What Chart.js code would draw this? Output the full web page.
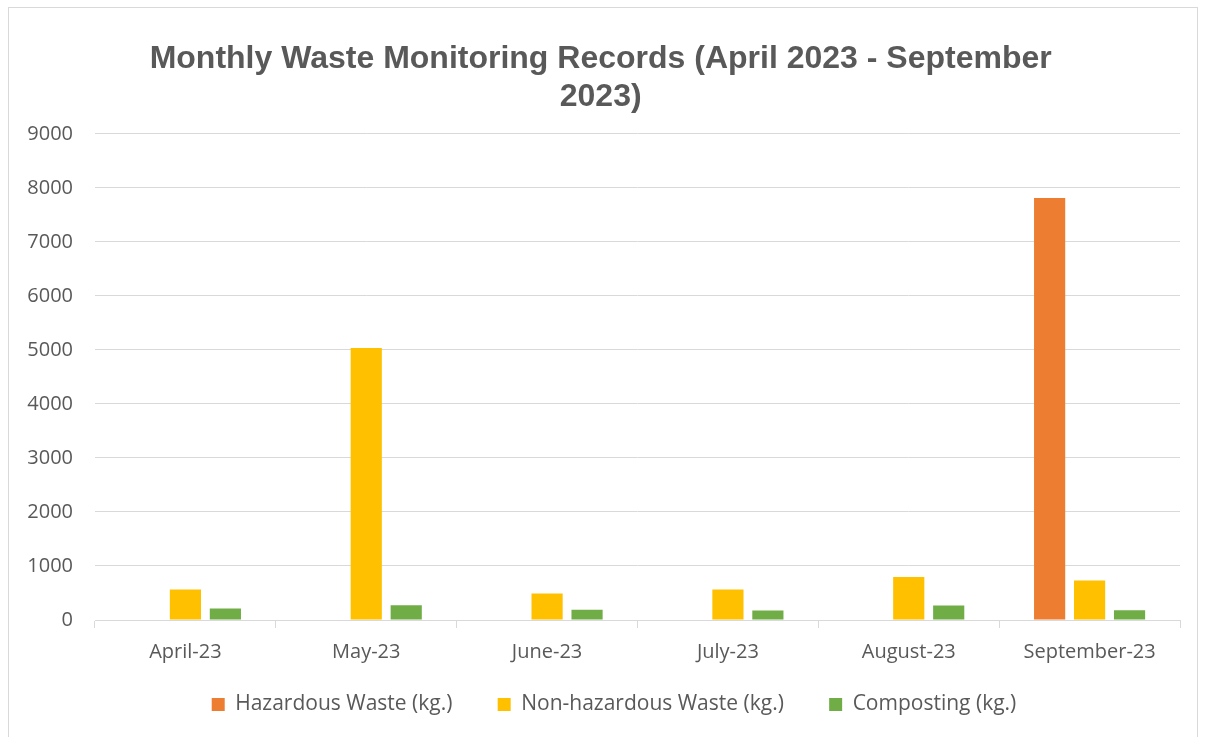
<!DOCTYPE html>
<html>
<head>
<meta charset="utf-8">
<script src="https://cdn.jsdelivr.net/npm/chart.js@4/dist/chart.umd.min.js"></script>
<style>
  html, body { margin: 0; padding: 0; background: #fff; }
  #wrap { position: absolute; left: 0; top: 0; width: 1206px; height: 737px; }
  #frame { position: absolute; left: 8px; top: 7px; width: 1190px; height: 740px; border: 1px solid #d9d9d9; box-sizing: border-box; pointer-events: none; }
</style>
</head>
<body>
<div id="wrap"><canvas id="c" width="1206" height="737"></canvas></div>
<div id="frame"></div>
<script>
const categories = ["April-23", "May-23", "June-23", "July-23", "August-23", "September-23"];
const hazardous = [null, null, null, null, null, 7810];
const nonHazardous = [565, 5035, 490, 565, 795, 730];
const composting = [213, 274, 189, 176, 269, 181];
const seriesNames = ["Hazardous Waste (kg.)", "Non-hazardous Waste (kg.)", "Composting (kg.)"];
const titleLines = ["Monthly Waste Monitoring Records (April 2023 - September", "2023)"];

const textColor = "#595959";
const gridColor = "#d9d9d9";
const bodyFont = "'Open Sans', 'Noto Sans', sans-serif";

// widen the y scale box to the left so its labels are not clipped
const yBoxPlugin = {
  id: "yBox",
  afterLayout(chart) { chart.scales.y.left = 18; }
};

new Chart(document.getElementById("c"), {
  type: "bar",
  data: {
    labels: categories,
    datasets: [
      { label: seriesNames[0], data: hazardous, backgroundColor: "#ED7D31" },
      { label: seriesNames[1], data: nonHazardous, backgroundColor: "#FFC000" },
      { label: seriesNames[2], data: composting, backgroundColor: "#70AD47" }
    ]
  },
  plugins: [yBoxPlugin],
  options: {
    responsive: false,
    animation: false,
    layout: { padding: { left: 48, right: 26, top: 40, bottom: 12 } },
    datasets: { bar: { categoryPercentage: 0.663, barPercentage: 0.78 } },
    plugins: {
      title: {
        display: true,
        text: titleLines.map(t => t + "\u00a0\u00a0\u00a0"),
        color: textColor,
        font: { family: "'Liberation Sans', Arial, sans-serif", size: 32, weight: "bold", lineHeight: 1.2 },
        padding: { top: 0, bottom: 17 }
      },
      legend: {
        position: "bottom",
        labels: {
          color: textColor,
          font: { family: bodyFont, size: 21 },
          boxWidth: 13,
          boxHeight: 13,
          padding: 18,
          generateLabels: (chart) => {
            const items = Chart.defaults.plugins.legend.labels.generateLabels(chart);
            items.forEach((it, i) => { if (i < items.length - 1) it.text = it.text + "     "; });
            return items;
          }
        }
      },
      tooltip: { enabled: false }
    },
    scales: {
      y: {
        min: 0,
        max: 9000,
        ticks: {
          stepSize: 1000, color: textColor, font: { family: bodyFont, size: 20 }, padding: 22,
          callback: (v) => String(v)
        },
        grid: { color: gridColor, lineWidth: 1, drawTicks: false },
        border: { display: false },
        afterFit: (scale) => { scale.width = 47; }
      },
      x: {
        ticks: { color: textColor, font: { family: bodyFont, size: 20 }, padding: 12 },
        grid: { drawOnChartArea: false, drawTicks: true, tickLength: 8, color: gridColor, offset: true },
        border: { display: true, color: gridColor, width: 1 }
      }
    }
  }
});
</script>
</body>
</html>
